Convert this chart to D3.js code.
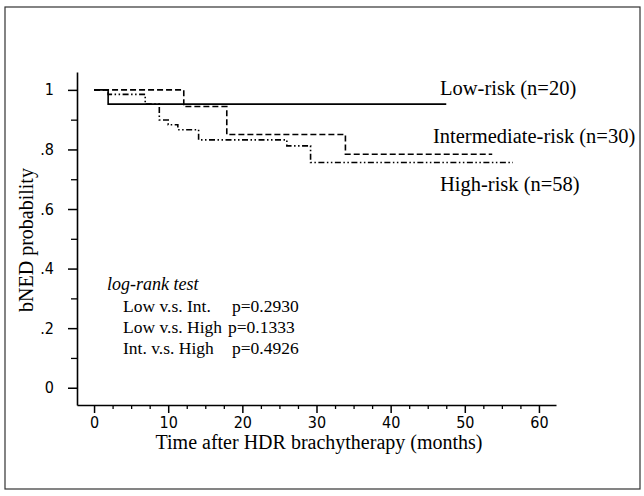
<!DOCTYPE html>
<html>
<head>
<meta charset="utf-8">
<script src="https://cdn.jsdelivr.net/npm/d3@7"></script>
<style>
  html, body { margin: 0; padding: 0; background: #fff; }
  svg { display: block; }
  .tick text { font-family: "Liberation Sans Narrow", "DejaVu Sans Condensed", "Liberation Sans", sans-serif; font-stretch: condensed; }
</style>
</head>
<body>
<svg id="chart" width="644" height="496"></svg>
<script>
// ---- data ----
const lowTime  = [0, 1.9, 47.5];
const lowSurv  = [1.0, 0.952, 0.952];
const intTime  = [0, 12.1, 17.9, 33.9, 53.7];
const intSurv  = [1.0, 0.944, 0.850, 0.784, 0.784];
const highTime = [0, 1.9, 6.9, 8.8, 10.0, 11.3, 14.1, 26.0, 29.2, 56.5];
const highSurv = [1.0, 0.985, 0.952, 0.899, 0.883, 0.866, 0.832, 0.812, 0.756, 0.756];

const seriesNames  = ["Low-risk (n=20)", "Intermediate-risk (n=30)", "High-risk (n=58)"];
const xTickValues  = [0, 10, 20, 30, 40, 50, 60];
const xTickLabels  = ["0", "10", "20", "30", "40", "50", "60"];
const yTickValues  = [0, 0.2, 0.4, 0.6, 0.8, 1.0];
const yTickLabels  = ["0", ".2", ".4", ".6", ".8", "1"];
const testTitle    = "log-rank test";
const testPairs    = ["Low v.s. Int.", "Low v.s. High", "Int. v.s. High"];
const testPValues  = ["p=0.2930", "p=0.1333", "p=0.4926"];
const xTitle = "Time after HDR brachytherapy (months)";
const yTitle = "bNED probability";

// ---- layout ----
const svg = d3.select("#chart");
const x = d3.scaleLinear().domain([-2.3, 62.3]).range([77, 556]);
const y = d3.scaleLinear().domain([-0.058, 1.06]).range([405, 72]);

// outer frame
svg.append("rect").attr("x", 5).attr("y", 7).attr("width", 635).attr("height", 482)
  .attr("fill", "none").attr("stroke", "#333").attr("stroke-width", 1.2);

// minor ticks
const xMinor = d3.range(0, 60.01, 2.5).filter(v => v % 10 !== 0);
const yMinor = [0.1, 0.3, 0.5, 0.7, 0.9];

svg.append("g").attr("transform", "translate(0,405)")
  .call(d3.axisBottom(x).tickValues(xMinor).tickSize(4).tickFormat(""))
  .call(g => g.select(".domain").remove())
  .selectAll("line").attr("stroke", "#000").attr("stroke-width", 1.3);
svg.append("g").attr("transform", "translate(77,0)")
  .call(d3.axisLeft(y).tickValues(yMinor).tickSize(6).tickFormat(""))
  .call(g => g.select(".domain").remove())
  .selectAll("line").attr("stroke", "#000").attr("stroke-width", 1.3);

// major axes
const xAxis = svg.append("g").attr("transform", "translate(0,405)")
  .call(d3.axisBottom(x).tickValues(xTickValues).tickSize(8).tickSizeOuter(0).tickPadding(4)
    .tickFormat((d, i) => xTickLabels[i]));
xAxis.select(".domain").attr("stroke", "#000").attr("stroke-width", 1.6);
xAxis.selectAll("line").attr("stroke", "#000").attr("stroke-width", 1.5);
xAxis.selectAll("text").attr("font-size", 16).attr("fill", "#000");

const yAxis = svg.append("g").attr("transform", "translate(77,0)")
  .call(d3.axisLeft(y).tickValues(yTickValues).tickSize(9).tickSizeOuter(0).tickPadding(14)
    .tickFormat((d, i) => yTickLabels[i]));
yAxis.select(".domain").attr("stroke", "#000").attr("stroke-width", 1.6);
yAxis.selectAll("line").attr("stroke", "#000").attr("stroke-width", 1.5);
yAxis.selectAll("text").attr("font-size", 16).attr("fill", "#000");

// curves
const line = d3.line().x(d => x(d[0])).y(d => y(d[1])).curve(d3.curveStepAfter);
const series = [
  { t: lowTime,  s: lowSurv,  dash: null },
  { t: intTime,  s: intSurv,  dash: "6,3" },
  { t: highTime, s: highSurv, dash: "6,2.5,1.5,2.5,1.5,2.5" }
];
series.forEach(sr => {
  svg.append("path")
    .datum(sr.t.map((t, i) => [t, sr.s[i]]))
    .attr("d", line)
    .attr("fill", "none")
    .attr("stroke", "#000")
    .attr("stroke-width", 1.6)
    .attr("stroke-dasharray", sr.dash);
});

// series labels
const serif = "'Liberation Serif', 'Times New Roman', serif";
const labelPos = [[440, 95], [433, 143], [440, 191]];
seriesNames.forEach((n, i) => {
  svg.append("text").attr("x", labelPos[i][0]).attr("y", labelPos[i][1])
    .attr("font-family", serif).attr("font-size", 20.5).attr("fill", "#000").text(n);
});

// log-rank block
svg.append("text").attr("x", 107).attr("y", 290).attr("font-family", serif)
  .attr("font-style", "italic").attr("font-size", 18).attr("fill", "#000").text(testTitle);
const pX = [232, 228, 232];
testPairs.forEach((p, i) => {
  const yy = 312 + i * 21;
  svg.append("text").attr("x", 123).attr("y", yy).attr("font-family", serif)
    .attr("font-size", 17.5).attr("fill", "#000").text(p);
  svg.append("text").attr("x", pX[i]).attr("y", yy).attr("font-family", serif)
    .attr("font-size", 17.5).attr("fill", "#000").text(testPValues[i]);
});

// axis titles
svg.append("text").attr("x", 319).attr("y", 449).attr("text-anchor", "middle")
  .attr("font-family", serif).attr("font-size", 20).attr("fill", "#000").text(xTitle);
svg.append("text").attr("transform", "translate(33,240) rotate(-90)").attr("text-anchor", "middle")
  .attr("font-family", serif).attr("font-size", 20).attr("fill", "#000").text(yTitle);
</script>
</body>
</html>
